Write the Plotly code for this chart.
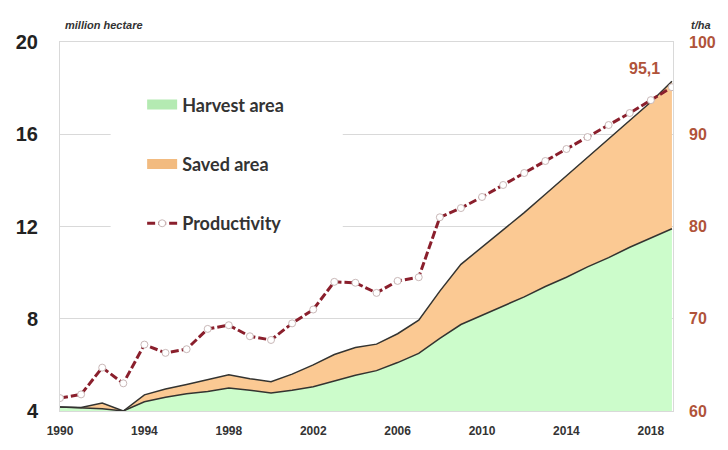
import plotly.graph_objects as go

years = list(range(1990, 2020))

# million hectare
harvest_area = [4.17, 4.12, 4.10, 4.00, 4.40, 4.60, 4.75, 4.85, 5.00, 4.90,
                4.78, 4.90, 5.05, 5.30, 5.55, 5.75, 6.10, 6.50, 7.15, 7.75,
                8.15, 8.55, 8.95, 9.40, 9.80, 10.25, 10.65, 11.10, 11.50, 11.90]
total_area = [4.17, 4.15, 4.35, 4.00, 4.70, 4.95, 5.15, 5.35, 5.57, 5.40,
              5.27, 5.60, 6.00, 6.45, 6.75, 6.90, 7.35, 7.94, 9.20, 10.36,
              11.10, 11.85, 12.60, 13.40, 14.20, 15.00, 15.80, 16.60, 17.40, 18.30]
saved_area = [round(t - h, 2) for t, h in zip(total_area, harvest_area)]

# t/ha
productivity = [61.4, 61.8, 64.7, 63.0, 67.2, 66.3, 66.7, 68.9, 69.3, 68.1,
                67.7, 69.5, 71.0, 74.0, 73.9, 72.8, 74.1, 74.5, 81.0, 82.0,
                83.2, 84.5, 85.8, 87.1, 88.4, 89.7, 91.0, 92.3, 93.7, 95.1]

left_ticks = [4, 8, 12, 16, 20]
right_ticks = [60, 70, 80, 90, 100]
x_ticks = list(range(1990, 2019, 4))

edge = "#333330"
maroon = "#8A1F2C"
brown = "#B0533A"
green_fill = "#CCFCCB"
orange_fill = "#FBC993"

base = left_ticks[0]
stack_top = [h + s for h, s in zip(harvest_area, saved_area)]

fig = go.Figure()

# filled bands
fig.add_trace(go.Scatter(
    x=years + years[::-1], y=harvest_area + [base] * len(years),
    fill="toself", mode="none", fillcolor=green_fill,
    showlegend=False, hoverinfo="skip",
))
fig.add_trace(go.Scatter(
    x=years + years[::-1], y=stack_top + harvest_area[::-1],
    fill="toself", mode="none", fillcolor=orange_fill,
    showlegend=False, hoverinfo="skip",
))

# dark outlines of the two bands
for series in (harvest_area, stack_top):
    fig.add_trace(go.Scatter(
        x=years, y=series, mode="lines", showlegend=False,
        line=dict(color=edge, width=1.5),
    ))

fig.add_trace(go.Scatter(
    x=years, y=productivity, name="Productivity", yaxis="y2",
    mode="lines+markers",
    line=dict(color=maroon, width=3, dash="8px,3px"),
    marker=dict(symbol="circle", size=7, color="white",
                line=dict(color="#C9B8B8", width=1)),
    legendgroup="c", legendrank=3,
))

# legend swatches for the bands
fig.add_trace(go.Scatter(
    x=[None], y=[None], name="Harvest area", mode="lines",
    line=dict(color="#B4EAB2", width=11), legendgroup="a", legendrank=1,
))
fig.add_trace(go.Scatter(
    x=[None], y=[None], name="Saved area", mode="lines",
    line=dict(color="#F2BB80", width=11), legendgroup="b", legendrank=2,
))

fig.add_annotation(
    x=years[-1], y=productivity[-1], yref="y2",
    text=f"{productivity[-1]:.1f}".replace(".", ","),
    showarrow=False, xanchor="right", yanchor="bottom", xshift=-10, yshift=8,
    font=dict(family="Liberation Sans", size=16, color=brown, weight="bold"),
)

fig.add_annotation(
    xref="paper", yref="paper", x=0.005, y=1.0, yanchor="bottom", yshift=9,
    xanchor="left", text="<i>million hectare</i>", showarrow=False,
    font=dict(family="Liberation Sans", size=11, color="#333333", weight="bold"),
)
fig.add_annotation(
    xref="paper", yref="paper", x=1.0, y=1.0, yanchor="bottom", yshift=9,
    xanchor="left", xshift=16, text="<i>t/ha</i>", showarrow=False,
    font=dict(family="Liberation Sans", size=11, color="#333333", weight="bold"),
)

# white panel behind the legend
fig.add_shape(
    type="rect", xref="x", yref="y", x0=1992.4, x1=2003.4, y0=11.5, y1=17.6,
    fillcolor="white", line=dict(width=0), layer="between",
)

fig.update_layout(
    width=728, height=450,
    margin=dict(l=60, r=50, t=42, b=30),
    paper_bgcolor="white", plot_bgcolor="white",
    showlegend=True,
    legend=dict(
        x=0.134, y=0.88, xanchor="left", yanchor="top",
        bgcolor="rgba(0,0,0,0)", borderwidth=0,
        itemwidth=30, tracegroupgap=33, traceorder="grouped",
        font=dict(family="Lato", size=18, color="#333333", weight="bold"),
    ),
    xaxis=dict(
        range=[1990, 2019.05], tickvals=x_ticks, ticks="",
        showgrid=False, zeroline=False,
        showline=True, linecolor="#D9D9D9", linewidth=1, mirror=True,
        tickfont=dict(family="Liberation Sans", size=12, color="#333333", weight="bold"),
        ticklabelstandoff=9,
    ),
    yaxis=dict(
        range=[4, 20], tickvals=left_ticks, ticks="",
        showgrid=True, gridcolor="#D9D9D9", gridwidth=1, zeroline=False,
        showline=True, linecolor="#D9D9D9", linewidth=1, mirror=True,
        tickfont=dict(family="Liberation Sans", size=20, color="#222222", weight="bold"),
        ticklabelstandoff=17,
    ),
    yaxis2=dict(
        range=[60, 100], tickvals=right_ticks, ticks="",
        overlaying="y", side="right", showgrid=False, zeroline=False,
        tickfont=dict(family="Liberation Sans", size=16, color=brown, weight="bold"),
        ticklabelstandoff=15,
    ),
)

fig.write_html("out.html")
